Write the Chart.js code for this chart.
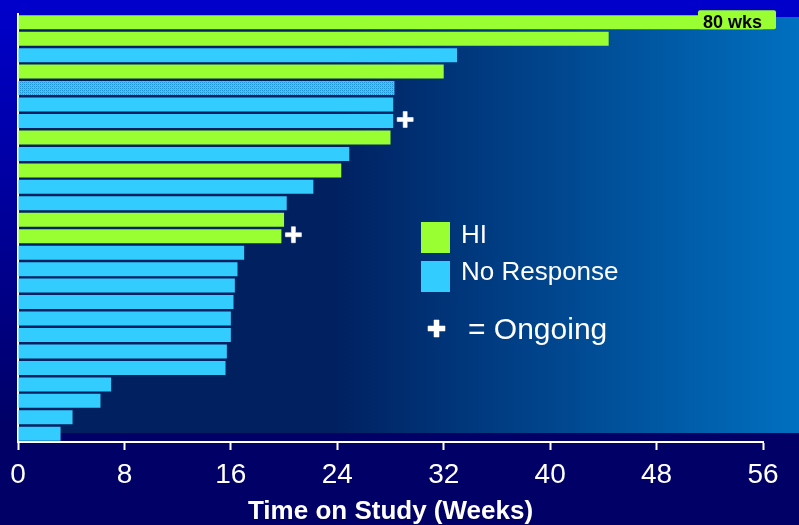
<!DOCTYPE html>
<html><head><meta charset="utf-8">
<script src="https://cdn.jsdelivr.net/npm/chart.js@4"></script>
<style>html,body{margin:0;padding:0;background:#000066;overflow:hidden}canvas{display:block}</style>
</head><body>
<canvas id="c" width="799" height="525"></canvas>
<script>
// ---- data ----
const patients = ['P1','P2','P3','P4','P5','P6','P7','P8','P9','P10','P11','P12','P13','P14','P15','P16','P17','P18','P19','P20','P21','P22','P23','P24','P25','P26'];
const weeks = [80, 44.4, 33.0, 32.0, 28.3, 28.2, 28.2, 28.0, 24.9, 24.3, 22.2, 20.2, 20.0, 19.8, 17.0, 16.5, 16.3, 16.2, 16.0, 16.0, 15.7, 15.6, 7.0, 6.2, 4.1, 3.2];
const response = ['HI','HI','NR','HI','NR*','NR','NR','HI','NR','HI','NR','NR','HI','HI','NR','NR','NR','NR','NR','NR','NR','NR','NR','NR','NR','NR'];
const ongoing = [false,false,false,false,false,false,true,false,false,false,false,false,false,true,false,false,false,false,false,false,false,false,false,false,false,false];
const xTicks = [0, 8, 16, 24, 32, 40, 48, 56];
const legendLabels = ['HI', 'No Response'];
const ongoingLabel = '= Ongoing';
const axisTitle = 'Time on Study (Weeks)';

const GREEN = '#99FF33', BLUE = '#33CCFF';
const FONT = '"Liberation Sans", Arial, sans-serif';

// dotted pattern for the special bar
const pc = document.createElement('canvas'); pc.width = 4; pc.height = 4;
const pctx = pc.getContext('2d');
pctx.fillStyle = BLUE; pctx.fillRect(0,0,4,4);
pctx.fillStyle = '#1E96D6';
[[0,0],[2,2],[2,0],[0,2]].forEach(([x,y]) => pctx.fillRect(x,y,1,1));
pctx.fillStyle = '#2BB4EE';
[[1,1],[3,3]].forEach(([x,y]) => pctx.fillRect(x,y,1,1));
const pattern = pctx.createPattern(pc, 'repeat');

const colorFor = r => r === 'HI' ? GREEN : (r === 'NR*' ? null : BLUE);

const bgPlugin = {
  id: 'bg',
  beforeDraw(chart) {
    const {ctx, chartArea: a, width, height} = chart;
    ctx.save();
    const g = ctx.createLinearGradient(0, 0, 0, height);
    g.addColorStop(0, '#0000CC'); g.addColorStop(0.82, '#000066'); g.addColorStop(1, '#000066');
    ctx.fillStyle = g; ctx.fillRect(0, 0, width, height);
    const top = a.top + 3, bot = a.bottom - 9;
    const h = ctx.createLinearGradient(a.left, 0, width, 0);
    h.addColorStop(0, '#002060'); h.addColorStop(0.4, '#002060'); h.addColorStop(1, '#0070C0');
    ctx.fillStyle = h; ctx.fillRect(a.left, top, width - a.left, bot - top);
    ctx.restore();
  }
};

function drawPlus(ctx, cx, cy, size, th) {
  ctx.save();
  ctx.fillStyle = '#fff';
  ctx.strokeStyle = 'rgba(170,170,200,0.9)';
  ctx.lineWidth = 1;
  ctx.beginPath();
  const s = size / 2, t = th / 2;
  ctx.moveTo(cx - t, cy - s); ctx.lineTo(cx + t, cy - s); ctx.lineTo(cx + t, cy - t);
  ctx.lineTo(cx + s, cy - t); ctx.lineTo(cx + s, cy + t); ctx.lineTo(cx + t, cy + t);
  ctx.lineTo(cx + t, cy + s); ctx.lineTo(cx - t, cy + s); ctx.lineTo(cx - t, cy + t);
  ctx.lineTo(cx - s, cy + t); ctx.lineTo(cx - s, cy - t); ctx.lineTo(cx - t, cy - t);
  ctx.closePath();
  ctx.stroke(); ctx.fill();
  ctx.restore();
}

const annoPlugin = {
  id: 'anno',
  afterDraw(chart) {
    const {ctx, chartArea: a} = chart;
    const xs = chart.scales.x;
    const meta = chart.getDatasetMeta(0);
    ctx.save();
    // over-range label
    weeks.forEach((v, i) => {
      if (v > xs.max) {
        const bar = meta.data[i];
        const bt = bar.y - bar.height / 2, bb = bar.y + bar.height / 2;
        const x0 = a.right - 65, x1 = a.right + 13, y0 = bt - 5;
        ctx.fillStyle = GREEN;
        ctx.beginPath();
        ctx.roundRect(x0, y0, x1 - x0, bb - y0, 2);
        ctx.fill();
        ctx.fillStyle = '#000';
        ctx.font = 'bold 18px ' + FONT;
        ctx.textBaseline = 'alphabetic';
        ctx.fillText(v + ' wks', x0 + 5, bb - 1);
      }
    });
    // ongoing markers
    ongoing.forEach((o, i) => {
      if (!o) return;
      const bar = meta.data[i];
      drawPlus(ctx, xs.getPixelForValue(weeks[i]) + 12, bar.y - 1.5, 16, 4);
    });
    // legend
    ctx.fillStyle = GREEN; ctx.fillRect(421, 222, 29, 31);
    ctx.fillStyle = BLUE; ctx.fillRect(421, 261, 29, 31);
    ctx.fillStyle = '#fff';
    ctx.textBaseline = 'alphabetic';
    ctx.font = '26px ' + FONT;
    ctx.fillText(legendLabels[0], 461, 243);
    ctx.fillText(legendLabels[1], 461, 280);
    drawPlus(ctx, 436.5, 328.5, 17, 5);
    ctx.fillStyle = '#fff';
    ctx.font = '30px ' + FONT;
    ctx.fillText(ongoingLabel, 468, 339);
    ctx.restore();
  }
};

new Chart(document.getElementById('c'), {
  type: 'bar',
  data: {
    labels: patients,
    datasets: [{
      data: weeks,
      backgroundColor: response.map(r => colorFor(r) || pattern),
      borderWidth: 0,
      barPercentage: 0.85,
      categoryPercentage: 1.0
    }]
  },
  options: {
    indexAxis: 'y',
    responsive: false,
    animation: false,
    devicePixelRatio: 1,
    layout: {padding: {left: 18, right: 36, top: 14, bottom: 0}},
    plugins: {legend: {display: false}, tooltip: {enabled: false}},
    scales: {
      x: {
        min: 0, max: 56,
        afterBuildTicks: s => { s.ticks = xTicks.map(v => ({value: v})); },
        afterFit: s => { s.height = 83; },
        ticks: {color: '#fff', font: {family: FONT, size: 28}, padding: 8, maxRotation: 0},
        grid: {drawOnChartArea: false, drawTicks: true, tickLength: 8, tickColor: '#fff', tickWidth: 2},
        border: {color: '#fff', width: 2},
        title: {display: true, text: axisTitle, color: '#fff', font: {family: FONT, size: 26, weight: 'bold', lineHeight: 1.0}, padding: {top: 0, bottom: 0}}
      },
      y: {
        afterFit: s => { s.width = 0; },
        ticks: {display: false},
        grid: {display: false},
        border: {color: '#fff', width: 2},
        z: 1
      }
    }
  },
  plugins: [bgPlugin, annoPlugin]
});
</script>
</body></html>
